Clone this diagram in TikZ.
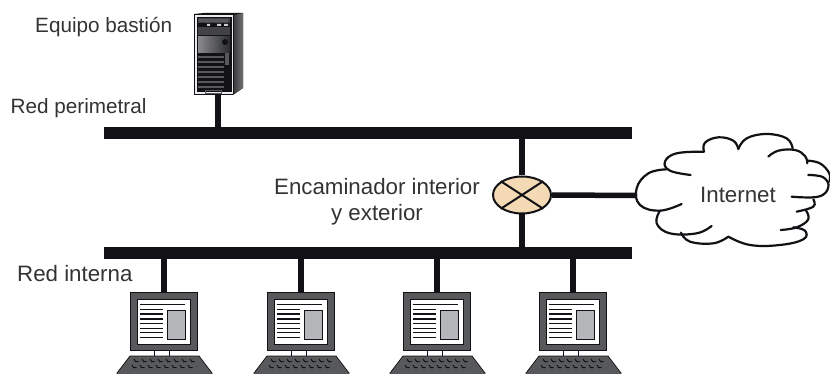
\documentclass[tikz,border=0pt]{standalone}
\usepackage{fontspec}
\setmainfont{Liberation Sans}
\usetikzlibrary{shapes.geometric}
\definecolor{txt}{HTML}{333335}
\definecolor{ink}{HTML}{121216}
\definecolor{routerfill}{HTML}{F3DAB5}
\definecolor{lapgray}{HTML}{58595B}
\definecolor{docgray}{HTML}{B5B6B9}
\tikzset{
  lab/.style={font=\fontsize{20.7}{24}\selectfont,text=txt,inner sep=0pt},
  labbig/.style={font=\fontsize{22.3}{25.7}\selectfont,text=txt,inner sep=0pt},
  bus/.style={fill=ink,draw=none,minimum width=528pt,minimum height=12pt,inner sep=0pt},
  link/.style={draw=ink,line width=5.5pt},
  cloudline/.style={draw=ink,line width=2.2pt,line cap=round},
  doc/.style={draw=ink,line width=1.3pt},
  routernode/.style={ellipse,fill=routerfill,draw=ink,line width=2pt,minimum width=58pt,minimum height=37pt,inner sep=0pt},
  laptop/.pic={
    \fill[lapgray,draw=ink,line width=.7pt] (-34,0) rectangle (33,58);
    \fill[white,draw=ink,line width=1pt] (-27,7) rectangle (26,52);
    \fill[docgray,draw=ink,line width=1pt] (3,18) rectangle (21,47);
    \draw[doc] (-24,12.5) -- (21,12.5);
    \foreach \yy in {17.5,22,27,31.5,36.5,40.5,45.5}{\draw[doc] (-24,\yy) -- (-1,\yy);}
    \draw[ink,line width=.8pt] (-10,58) -- (-10,64) (5,58) -- (5,64);
    \fill[lapgray,draw=ink,line width=.7pt] (-34,64) -- (35,64) -- (48,81) -- (48,83) -- (-47,83) -- (-47,81) -- cycle;
    \foreach \xa in {-30,-22,-14,-6,2,10,18,26}{
      \draw[ink,line width=1pt] (\xa,67) -- ++(1.5,2.5) -- ++(3,0);
      \draw[ink,line width=1pt] (\xa-2,73) -- ++(1.5,2.5) -- ++(3,0);
    }
  }
}
\begin{document}
\begin{tikzpicture}[x=1pt,y=-1pt]
\useasboundingbox (0,0) rectangle (830,374);
% buses
\node[bus,anchor=north west] (top) at (104,127) {};
\node[bus,anchor=north west] (bot) at (104,247) {};
% server
\coordinate (srvbase) at (218,95);
\fill[ink] (194,14) -- (204,13) -- (243,13) -- (243,88) -- (233,95) -- (194,95) -- cycle;
\shade[left color=lapgray!70!black,right color=lapgray!85!white] (234,15) -- (243,13) -- (243,88) -- (234,94) -- cycle;
\fill[white!85!gray] (194.5,15) -- (233,15) -- (233,94) -- (194.5,94) -- cycle;
\fill[ink] (196.5,17) -- (231.5,17) -- (231.5,92) -- (196.5,92) -- cycle;
\fill[lapgray!75!black] (198,18.5) rectangle (230,35);
\fill[ink] (198,23) rectangle (230,27.5);
\fill[lapgray] (199,19.5) rectangle (228,22);
\shade[left color=lapgray!70!white,right color=lapgray!50!black] (198,37) rectangle (230,53);
\fill[white!60!gray] (207,24) rectangle (210,26) (217,24) rectangle (221,26) (224,24) rectangle (228,26);
\foreach \yy in {55,60,65,70,75,80,85}{\fill[lapgray] (198,\yy+.8) rectangle (224,\yy+3.2);}
\draw[lapgray,line width=.8pt] (205,90) rectangle (221,93.5);
\fill[ink] (225,42) circle (3);
\fill[lapgray] (225,53) rectangle (229,65);
% cloud
\coordinate (cloudL) at (637,195.5);
\begin{scope}[shift={(480,130)},x=.3333pt,y=-.3333pt,cloudline]
\draw plot[smooth,tension=.7] coordinates {(560,118) (505,130) (470,175) (480,225) (540,242) (605,222)};
\draw plot[smooth,tension=.7] coordinates {(632,135) (570,122) (555,95) (590,70) (672,65)};
\draw plot[smooth,tension=.7] coordinates {(672,65) (675,38) (715,22) (760,32) (775,57)};
\draw plot[smooth,tension=.7] coordinates {(775,57) (800,25) (860,12) (920,25) (938,55)};
\draw plot[smooth,tension=.7] coordinates {(865,80) (895,62) (945,60) (975,78) (982,100)};
\draw plot[smooth,tension=.7] coordinates {(982,92) (1020,100) (1048,130) (1048,155)};
\draw plot[smooth,tension=.7] coordinates {(985,135) (1030,142) (1045,172) (1015,200) (935,200)};
\draw plot[smooth,tension=.7] coordinates {(1000,208) (1000,230) (950,245)};
\draw plot[smooth,tension=.7] coordinates {(977,240) (985,268) (950,292) (902,300)};
\draw plot[smooth,tension=.7] coordinates {(940,292) (975,302) (970,328) (900,345) (810,345) (745,320)};
\draw plot[smooth,tension=.7] coordinates {(745,320) (700,340) (630,335) (603,308)};
\draw plot[smooth,tension=.7] coordinates {(540,242) (530,280) (570,310) (650,310) (695,288)};
\end{scope}
% router and connectors
\node[routernode] (router) at (522,195) {};
\draw[link] (srvbase) -- (srvbase |- top.north);
\draw[link] (router.north) -- (router.north |- top.south);
\draw[link] (router.south) -- (router.south |- bot.north);
\draw[link] (router.east) -- (cloudL);
\draw[ink,line width=2pt] (router.north west) -- (router.south east) (router.north east) -- (router.south west);
% laptops
\foreach \nm/\xx in {a/164,b/301,c/437,d/573}{
  \coordinate (lap\nm) at (\xx,292);
  \draw[link] (lap\nm) -- (lap\nm |- bot.south);
  \pic at (\xx,292) {laptop};
}
% labels
\node[lab,anchor=base west] (l1) at (35,33) {Equipo bastión};
\node[lab,anchor=base west] (l2) at (10.5,114) {Red perimetral};
\node[labbig,anchor=base west] (l3) at (17,281) {Red interna};
\node[labbig,align=center] (l4) at (377,202) {Encaminador interior\\y exterior};
\node[labbig,anchor=base] (l5) at (738,203) {Internet};
\end{tikzpicture}
\end{document}
